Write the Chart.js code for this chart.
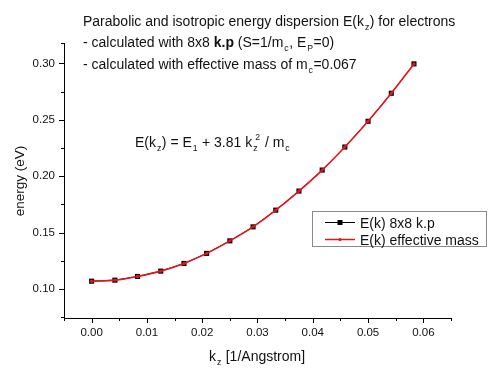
<!DOCTYPE html>
<html>
<head>
<meta charset="utf-8">
<script src="https://cdn.jsdelivr.net/npm/chart.js@4/dist/chart.umd.min.js"></script>
<style>
html,body{margin:0;padding:0;background:#fff;}
#wrap{width:499px;height:375px;position:relative;}
</style>
</head>
<body>
<div id="wrap"><canvas id="c" width="499" height="375"></canvas></div>
<script>
// ---- data ----
const kz = [0, 0.0042, 0.0083, 0.0125, 0.0167, 0.0208, 0.025, 0.0292, 0.0333, 0.0375, 0.0417, 0.0458, 0.05, 0.0542, 0.0583];
const energyKp = [0.1071, 0.1080, 0.1113, 0.1160, 0.1228, 0.1317, 0.1428, 0.1552, 0.1700, 0.1869, 0.2055, 0.2259, 0.2487, 0.2735, 0.2995];
const energyEff = [0.1071, 0.1080, 0.1113, 0.1160, 0.1228, 0.1317, 0.1428, 0.1552, 0.1700, 0.1869, 0.2055, 0.2259, 0.2487, 0.2735, 0.2995];
const xTicks = [0, 0.01, 0.02, 0.03, 0.04, 0.05, 0.06];
const xTickLabels = ['0.00', '0.01', '0.02', '0.03', '0.04', '0.05', '0.06'];
const xMinorTicks = [-0.005, 0.005, 0.015, 0.025, 0.035, 0.045, 0.055, 0.065];
const yTicks = [0.10, 0.15, 0.20, 0.25, 0.30];
const yTickLabels = ['0.10', '0.15', '0.20', '0.25', '0.30'];
const yMinorTicks = [0.075, 0.125, 0.175, 0.225, 0.275];
const seriesNames = ['E(k) 8x8 k.p', 'E(k) effective mass'];

const FONT = '"Liberation Sans", Arial, sans-serif';
const RED = '#e8141b';

function drawRich(ctx, x, y, segs, size) {
  let cx = x;
  for (const s of segs) {
    if (s.stack) {
      ctx.font = (size * 0.62) + 'px ' + FONT;
      const w1 = ctx.measureText(s.sub).width;
      const w2 = ctx.measureText(s.sup).width;
      ctx.fillText(s.sub, cx + 1, y + 4);
      ctx.fillText(s.sup, cx + 3, y - 7);
      cx += Math.max(w1 + 1, w2 + 3) + 1;
      continue;
    }
    let fs = size, dy = 0;
    if (s.sub) { fs = size * 0.62; dy = 4; }
    if (s.sup) { fs = size * 0.62; dy = -7; }
    ctx.font = (s.bold ? 'bold ' : '') + fs + 'px ' + FONT;
    ctx.fillText(s.t, cx + (s.sub ? 1 : 0), y + dy);
    cx += ctx.measureText(s.t).width + (s.sub ? 1.5 : 0);
  }
  return cx;
}

const overlay = {
  id: 'overlay',
  afterDraw(chart) {
    const ctx = chart.ctx;
    const xs = chart.scales.x, ys = chart.scales.y;
    const ca = chart.chartArea;
    ctx.save();
    ctx.strokeStyle = '#000';
    ctx.lineWidth = 1;
    // ticks
    ctx.beginPath();
    xTicks.forEach(v => { const p = Math.round(xs.getPixelForValue(v)) + 0.5; ctx.moveTo(p, ca.bottom); ctx.lineTo(p, ca.bottom + 5); });
    xMinorTicks.forEach(v => { const p = Math.round(xs.getPixelForValue(v)) + 0.5; ctx.moveTo(p, ca.bottom); ctx.lineTo(p, ca.bottom + 3); });
    yTicks.forEach(v => { const p = Math.round(ys.getPixelForValue(v)) + 0.5; ctx.moveTo(ca.left, p); ctx.lineTo(ca.left - 5, p); });
    yMinorTicks.forEach(v => { const p = Math.round(ys.getPixelForValue(v)) + 0.5; ctx.moveTo(ca.left, p); ctx.lineTo(ca.left - 3, p); });
    ctx.moveTo(ca.left, Math.round(ca.top) + 0.5); ctx.lineTo(ca.left - 3, Math.round(ca.top) + 0.5);
    ctx.stroke();

    ctx.fillStyle = '#111';
    ctx.textBaseline = 'alphabetic';
    ctx.textAlign = 'left';
    // annotations
    drawRich(ctx, 83, 25.5, [{t: 'Parabolic and isotropic energy dispersion E(k'}, {t: 'z', sub: true}, {t: ') for electrons'}], 14);
    drawRich(ctx, 83, 47, [{t: '- calculated with 8x8 '}, {t: 'k.p', bold: true}, {t: ' (S=1/m'}, {t: 'c', sub: true}, {t: ', E'}, {t: 'P', sub: true}, {t: '=0)'}], 14);
    drawRich(ctx, 83, 69, [{t: '- calculated with effective mass of m'}, {t: 'c', sub: true}, {t: '=0.067'}], 14);
    drawRich(ctx, 135, 147, [{t: 'E(k'}, {t: 'z', sub: true}, {t: ') = E'}, {t: '1', sub: true}, {t: ' + 3.81 k'}, {stack: true, sub: 'z', sup: '2'}, {t: ' / m'}, {t: 'c', sub: true}], 14);

    // axis titles
    drawRich(ctx, 209, 361, [{t: 'k'}, {t: 'z', sub: true}, {t: ' [1/Angstrom]'}], 14);
    ctx.save();
    ctx.translate(24, 181);
    ctx.rotate(-Math.PI / 2);
    ctx.font = '13.5px ' + FONT;
    ctx.textAlign = 'center';
    ctx.fillText('energy (eV)', 0, 0);
    ctx.restore();

    // legend
    ctx.strokeStyle = '#8a8a8a';
    ctx.strokeRect(312.5, 211.5, 174, 35);
    ctx.lineWidth = 1;
    ctx.strokeStyle = '#000';
    ctx.beginPath(); ctx.moveTo(325, 222.5); ctx.lineTo(355, 222.5); ctx.stroke();
    ctx.fillStyle = '#000';
    ctx.fillRect(337.5, 220, 5, 5);
    ctx.strokeStyle = RED;
    ctx.lineWidth = 1.5;
    ctx.beginPath(); ctx.moveTo(325, 239.5); ctx.lineTo(355, 239.5); ctx.stroke();
    ctx.fillStyle = RED;
    ctx.beginPath(); ctx.arc(340, 239.5, 1.6, 0, Math.PI * 2); ctx.fill();
    ctx.fillStyle = '#111';
    ctx.font = '14px ' + FONT;
    ctx.fillText(seriesNames[0], 360, 227.5);
    ctx.fillText(seriesNames[1], 360, 244.5);
    ctx.restore();
  }
};

new Chart(document.getElementById('c'), {
  type: 'line',
  data: {
    datasets: [
      {
        label: seriesNames[0],
        data: kz.map((k, i) => ({x: k, y: energyKp[i]})),
        borderColor: '#000', backgroundColor: '#000',
        borderWidth: 1, pointStyle: 'rect', pointRadius: 3.6,
        pointBorderWidth: 0, order: 2, tension: 0
      },
      {
        label: seriesNames[1],
        data: kz.map((k, i) => ({x: k, y: energyEff[i]})),
        borderColor: RED, backgroundColor: RED,
        borderWidth: 1.6, pointStyle: 'circle', pointRadius: 1.7,
        pointBorderWidth: 0, order: 1, cubicInterpolationMode: 'monotone'
      }
    ]
  },
  options: {
    responsive: false,
    animation: false,
    devicePixelRatio: 1,
    layout: {padding: {top: 43, right: 48, left: 0, bottom: 0}},
    plugins: {legend: {display: false}, tooltip: {enabled: false}},
    scales: {
      x: {
        type: 'linear', min: -0.005, max: 0.065,
        grid: {display: false, drawTicks: false},
        border: {display: true, color: '#000', width: 1},
        afterFit: s => { s.height = 57; },
        afterBuildTicks: s => { s.ticks = xTicks.map(v => ({value: v})); },
        ticks: {
          color: '#111', font: {family: FONT, size: 11.5}, padding: 8, maxRotation: 0,
          callback: (v) => { const i = xTicks.findIndex(t => Math.abs(t - v) < 1e-9); return i >= 0 ? xTickLabels[i] : ''; }
        }
      },
      y: {
        type: 'linear', min: 0.0745, max: 0.318,
        grid: {display: false, drawTicks: false},
        border: {display: true, color: '#000', width: 1},
        afterFit: s => { s.width = 64; },
        afterBuildTicks: s => { s.ticks = yTicks.map(v => ({value: v})); },
        ticks: {
          color: '#111', font: {family: FONT, size: 11.5}, padding: 9,
          callback: (v) => { const i = yTicks.findIndex(t => Math.abs(t - v) < 1e-9); return i >= 0 ? yTickLabels[i] : ''; }
        }
      }
    }
  },
  plugins: [overlay]
});
</script>
</body>
</html>
